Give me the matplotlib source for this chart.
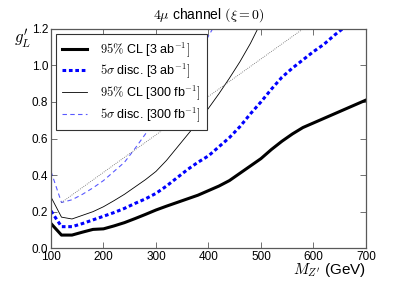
import matplotlib
matplotlib.use("Agg")
import matplotlib.pyplot as plt

plt.rcParams["font.family"] = ["Liberation Sans", "DejaVu Sans"]
plt.rcParams["mathtext.fontset"] = "cm"

# Z' mass grid (GeV)
mass = [100, 120, 140, 160, 180, 200, 220, 240, 260, 280, 300, 320, 340, 360,
        380, 400, 420, 440, 460, 480, 500, 520, 540, 560, 580, 600, 620, 640,
        660, 680, 700]

# 95% CL, 3 ab^-1
cl_3ab = [0.135, 0.072, 0.072, 0.088, 0.103, 0.106, 0.122, 0.14, 0.162, 0.185,
          0.209, 0.23, 0.25, 0.27, 0.29, 0.315, 0.34, 0.37, 0.41, 0.45, 0.49,
          0.54, 0.585, 0.625, 0.66, 0.685, 0.71, 0.735, 0.76, 0.785, 0.81]

# 5 sigma discovery, 3 ab^-1
disc_mass = mass[:29]
disc_3ab = [0.204, 0.118, 0.118, 0.135, 0.155, 0.175, 0.195, 0.218, 0.245,
            0.27, 0.30, 0.34, 0.385, 0.43, 0.47, 0.505, 0.555, 0.605, 0.665,
            0.735, 0.80, 0.87, 0.935, 0.985, 1.03, 1.075, 1.115, 1.165, 1.21]

# 95% CL, 300 fb^-1
cl_300_mass = mass[:21]
cl_300 = [0.28, 0.17, 0.16, 0.18, 0.20, 0.227, 0.26, 0.295, 0.335, 0.375,
          0.42, 0.48, 0.55, 0.62, 0.69, 0.765, 0.845, 0.93, 1.02, 1.12, 1.235]

# 5 sigma discovery, 300 fb^-1
disc_300_mass = mass[:17]
disc_300 = [0.42, 0.25, 0.265, 0.295, 0.33, 0.37, 0.42, 0.47, 0.545, 0.625,
            0.705, 0.79, 0.875, 0.965, 1.06, 1.16, 1.26]

# unlabelled dotted reference line
ref_mass = [120, 200, 300, 400, 500, 600]
ref_vals = [0.25, 0.415, 0.62, 0.83, 1.035, 1.24]

xticks = [100, 200, 300, 400, 500, 600, 700]
yticks = [0.0, 0.2, 0.4, 0.6, 0.8, 1.0, 1.2]

fig = plt.figure(figsize=(4.07, 2.85), dpi=100)
ax = fig.add_axes([0.1253, 0.129, 0.7737, 0.770])

ax.plot(mass, cl_3ab, color="black", lw=2.2, label=r"$95\%$ CL [3 ab$^{-1}]$")
ax.plot(disc_mass, disc_3ab, color="blue", lw=2.2, ls=(0, (1.2, 0.9)),
        label=r"$5\sigma$ disc. [3 ab$^{-1}]$")
ax.plot(cl_300_mass, cl_300, color="black", lw=0.6,
        label=r"$95\%$ CL [300 fb$^{-1}]$")
ax.plot(disc_300_mass, disc_300, color="blue", lw=0.8, alpha=0.65,
        ls=(0, (4, 3)), label=r"$5\sigma$ disc. [300 fb$^{-1}]$")
ax.plot(ref_mass, ref_vals, color="0.4", lw=0.6, ls=(0, (1, 1.5)))

ax.set_xlim(100, 700)
ax.set_ylim(0, 1.2)
ax.set_xticks(xticks)
ax.set_yticks(yticks)
ax.set_xticklabels([str(t) for t in xticks])
ax.set_yticklabels([f"{t:.1f}" for t in yticks])
ax.tick_params(direction="in", top=True, right=True, labelsize=8.5,
               length=4, width=0.6, color="0.35", pad=2)
for sp in ax.spines.values():
    sp.set_color("0.35")
    sp.set_linewidth(0.9)

ax.set_title(r"$4\mu$ channel $(\xi=0)$", fontsize=10, pad=7)
ax.text(-0.09, 0.955, r"$g^{\prime}_{L}$", transform=ax.transAxes, fontsize=12,
        ha="center", va="center")
ax.text(1.0, -0.10, r"$M_{Z'}$ (GeV)", transform=ax.transAxes, fontsize=11,
        ha="right", va="center")

leg = ax.legend(loc="upper left", fontsize=9, fancybox=False,
                edgecolor="0.2", framealpha=1, borderaxespad=0.4,
                handlelength=2.0, handletextpad=1.0, labelspacing=0.25,
                borderpad=0.5)
leg.get_frame().set_linewidth(0.8)

fig.savefig("out.png", dpi=100)
